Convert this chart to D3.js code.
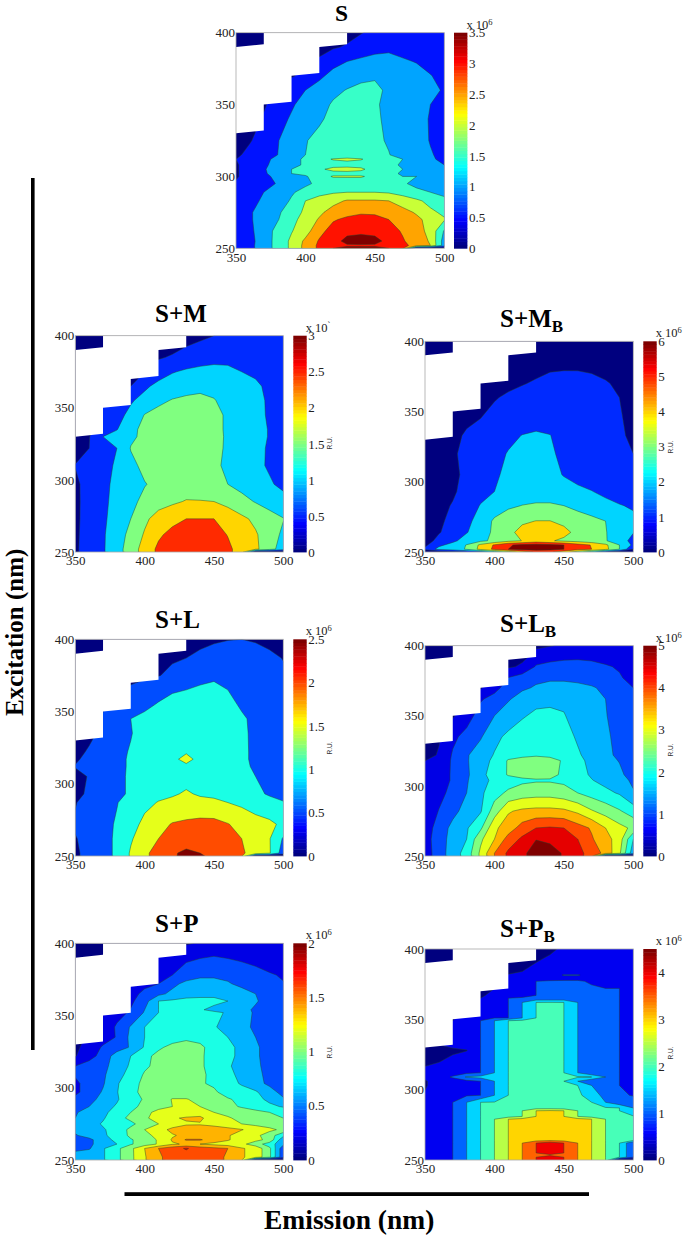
<!DOCTYPE html>
<html>
<head>
<meta charset="utf-8">
<title>Excitation-emission contour maps</title>
<script src="https://cdn.jsdelivr.net/npm/d3@7"></script>
<style>
  html, body { margin: 0; padding: 0; background: #fff; }
  svg { display: block; }
  text { font-family: "Liberation Serif", "Times New Roman", serif; }
</style>
</head>
<body>
<script>
// emission axis of every grid (nm)
var emission = [350, 360, 370, 380, 390, 400, 410, 420, 430, 440, 450, 460, 470, 480, 490, 500];

var emissionTicks = [350, 400, 450, 500];
var excitationTicks = [250, 300, 350, 400];

// no data in this corner of every map
var blankEmission = [350, 370, 370, 390, 390, 410, 410, 430, 430, 370, 370, 350];
var blankExcitation = [330, 332, 350, 352, 370, 372, 390, 392, 400, 400, 392, 390];

// intensities in units of 10^6 R.U., one row per excitation wavelength
var sExcitation = [250, 252, 255, 262, 270, 275, 283, 289, 295, 300, 302, 305, 308, 312, 315, 325, 340, 350, 360, 370, 380, 390, 400];
var sValues = [
  [.6, .87, 1.25, 1.67, 2.1, 2.65, 3.1, 3.5, 3.6, 3.6, 3.6, 3.5, 3.15, 0, 0, 0],
  [.6, .87, 1.25, 1.67, 2.1, 2.65, 3.1, 3.35, 3.45, 3.45, 3.45, 3.3, 3.15, 2.8, 2.5, 1.25],
  [.6, .85, 1.25, 1.67, 2.1, 2.6, 3.05, 3.3, 3.65, 3.7, 3.65, 3.35, 3.05, 2.75, 2.45, 1.25],
  [.65, .9, 1.25, 1.65, 1.97, 2.3, 2.85, 3.2, 3.35, 3.4, 3.35, 3.2, 2.95, 2.7, 2.35, 1.45],
  [.7, .95, 1.2, 1.47, 1.85, 2.2, 2.55, 2.95, 3.1, 3.15, 3.1, 3, 2.8, 2.6, 2.35, 2.05],
  [.7, .95, 1.2, 1.42, 1.75, 2.1, 2.4, 2.7, 2.85, 2.95, 2.95, 2.8, 2.65, 2.45, 2.1, 1.9],
  [.7, .9, 1.05, 1.28, 1.55, 2, 2.2, 2.35, 2.55, 2.55, 2.55, 2.5, 2.3, 2.1, 1.85, 1.6],
  [.65, .85, 1, 1.25, 1.45, 1.65, 1.85, 1.95, 2, 2, 2, 1.95, 1.8, 1.6, 1.5, 1.4],
  [.55, .75, .9, 1.02, 1.2, 1.42, 1.6, 1.65, 1.7, 1.7, 1.7, 1.65, 1.55, 1.4, 1.25, 1.15],
  [.45, .7, .9, 1.1, 1.35, 1.45, 1.75, 2.05, 2.05, 2.05, 1.85, 1.65, 1.5, 1.5, 1.3, 1.1],
  [.45, .7, .95, 1.15, 1.5, 1.6, 1.7, 1.8, 1.8, 1.8, 1.7, 1.6, 1.45, 1.3, 1.2, 1.1],
  [.45, .7, .97, 1.15, 1.5, 1.6, 1.9, 2.15, 2.2, 2.1, 1.75, 1.6, 1.5, 1.3, 1.15, 1.05],
  [.45, .7, .95, 1.1, 1.4, 1.55, 1.7, 1.8, 1.8, 1.8, 1.7, 1.6, 1.45, 1.25, 1.1, 1],
  [.5, .75, .9, 1.1, 1.3, 1.6, 1.85, 2.03, 2.1, 2.03, 1.8, 1.6, 1.5, 1.2, 1.05, .92],
  [.4, .65, .85, 1, 1.25, 1.5, 1.6, 1.7, 1.7, 1.7, 1.65, 1.52, 1.3, 1.15, 1.03, .9],
  [.3, .46, .75, .98, 1.2, 1.48, 1.6, 1.65, 1.7, 1.7, 1.6, 1.45, 1.3, 1.15, .98, .85],
  [.2, .3, .55, .85, 1.05, 1.25, 1.45, 1.6, 1.65, 1.65, 1.58, 1.4, 1.25, 1.1, .98, .85],
  [0, .2, .45, .7, .95, 1.15, 1.35, 1.55, 1.65, 1.65, 1.55, 1.4, 1.25, 1.1, 1, .85],
  [0, .1, .35, .6, .85, 1, 1.2, 1.4, 1.52, 1.6, 1.6, 1.42, 1.3, 1.15, 1.05, .98],
  [0, 0, .2, .45, .45, .65, .9, 1.15, 1.3, 1.4, 1.45, 1.35, 1.25, 1.15, 1.02, .85],
  [0, 0, 0, .2, .35, .5, .6, .85, 1, 1.1, 1.15, 1.15, 1.05, .98, .85, .7],
  [0, 0, 0, 0, .1, .2, .3, .45, .55, .7, .85, .9, .85, .8, .7, .65],
  [0, 0, 0, 0, 0, .05, .1, .2, .35, .48, .6, .7, .7, .7, .65, .6]
];

var smExcitation = [250, 252, 262, 273, 285, 297, 310, 322, 330, 335, 345, 355, 365, 375, 385, 400];
var smValues = [
  [.4, .8, .95, 1.3, 1.75, 2.2, 2.6, 2.75, 2.8, 2.8, 2.8, 2.6, 2.3, 0, 0, 0],
  [.4, .8, .95, 1.3, 1.75, 2.2, 2.6, 2.75, 2.8, 2.8, 2.8, 2.6, 2.3, 2.1, 1.7, 1.25],
  [.4, .75, .95, 1.25, 1.65, 2.05, 2.42, 2.65, 2.75, 2.75, 2.7, 2.48, 2.25, 2.05, 1.75, 1.4],
  [.4, .7, .92, 1.2, 1.5, 1.9, 2.2, 2.35, 2.5, 2.5, 2.5, 2.3, 2.1, 1.9, 1.7, 1.52],
  [.42, .65, .9, 1.15, 1.4, 1.6, 1.8, 1.92, 2.03, 2.02, 2, 1.85, 1.65, 1.47, 1.3, 1.15],
  [.4, .7, .9, 1.1, 1.3, 1.48, 1.6, 1.7, 1.75, 1.75, 1.65, 1.5, 1.35, 1.2, 1.05, .9],
  [.52, .7, .88, 1.05, 1.4, 1.6, 1.68, 1.72, 1.75, 1.75, 1.58, 1.42, 1.25, 1.1, .95, .75],
  [.3, .5, .85, 1, 1.52, 1.6, 1.68, 1.72, 1.75, 1.75, 1.65, 1.42, 1.25, 1.12, .95, .75],
  [.2, .48, 1, 1.2, 1.42, 1.6, 1.68, 1.72, 1.75, 1.75, 1.68, 1.42, 1.25, 1.12, .98, .75],
  [.2, .4, .75, .98, 1.4, 1.6, 1.68, 1.72, 1.75, 1.75, 1.65, 1.42, 1.25, 1.12, .98, .75],
  [.1, .3, .65, .85, 1.12, 1.52, 1.65, 1.7, 1.72, 1.72, 1.65, 1.42, 1.25, 1.12, .95, .75],
  [0, .2, .45, .65, .95, 1.15, 1.4, 1.53, 1.58, 1.6, 1.52, 1.38, 1.25, 1.1, .95, .75],
  [0, .1, .3, .45, .5, .92, 1.12, 1.25, 1.35, 1.4, 1.4, 1.3, 1.2, 1.08, .9, .72],
  [0, 0, .2, .3, .4, .5, .8, .97, 1.07, 1.12, 1.15, 1.12, 1, .92, .8, .68],
  [0, 0, 0, .1, .2, .35, .45, .55, .7, .8, .85, .85, .8, .75, .7, .62],
  [0, 0, 0, 0, 0, 0, .1, .2, .3, .4, .5, .65, .7, .7, .68, .58]
];

var smbExcitation = [250, 252, 255, 258, 264, 272, 283, 293, 305, 320, 333, 345, 360, 370, 380, 400];
var smbValues = [
  [0, .3, .6, 1, 1.6, 2.6, 3.5, 4.5, 5.2, 5.2, 4.5, 3.5, 2.5, 1, .3, 0],
  [1.2, 2.3, 2.5, 3.1, 4.3, 5.2, 6, 6.3, 6.4, 6.3, 6, 5.4, 5, 4.3, 3, 1],
  [.8, 1.8, 2.3, 3.05, 4.2, 5.1, 5.9, 6.2, 6.3, 6.2, 6, 5.4, 4.95, 4.2, 3, 1.8],
  [.7, 1.2, 1.8, 2.4, 2.8, 3.2, 3.7, 4.02, 4.4, 4.1, 3.8, 3.6, 3.3, 3.05, 2.6, 1.6],
  [.6, .95, 1.3, 1.95, 2.5, 3.2, 3.75, 4.3, 4.6, 4.5, 4.3, 3.7, 3.4, 3.05, 2.5, 2.05],
  [.55, .9, 1.15, 1.75, 2.4, 3.15, 3.5, 3.85, 4.02, 4.02, 3.75, 3.45, 3.25, 3, 2.6, 2.2],
  [.5, .8, 1.05, 1.5, 2.05, 2.5, 2.85, 3.02, 3.1, 3.1, 3, 2.75, 2.5, 2.25, 2.05, 1.9],
  [.45, .7, .9, 1.25, 1.7, 2, 2.3, 2.5, 2.6, 2.6, 2.4, 2.2, 2.03, 1.8, 1.6, 1.5],
  [.4, .6, .85, 1.15, 1.55, 1.9, 2.15, 2.3, 2.4, 2.3, 1.95, 1.7, 1.55, 1.45, 1.3, 1.15],
  [.35, .55, .9, 1.2, 1.45, 1.75, 2.05, 2.2, 2.3, 2.1, 1.85, 1.6, 1.45, 1.3, 1.15, 1],
  [.3, .45, .8, 1.1, 1.25, 1.5, 1.8, 2.02, 2.1, 2.02, 1.7, 1.5, 1.35, 1.2, 1.08, .9],
  [.2, .4, .6, .85, 1, 1.2, 1.35, 1.55, 1.7, 1.65, 1.55, 1.4, 1.3, 1.2, 1.05, .85],
  [.1, .25, .4, .6, .8, .95, 1.1, 1.3, 1.4, 1.4, 1.35, 1.3, 1.2, 1.1, 1, .8],
  [0, .1, .3, .45, .6, .75, .85, .95, 1.1, 1.2, 1.2, 1.18, 1.12, 1.05, .9, .7],
  [0, 0, .1, .3, .4, .5, .6, .7, .8, .95, .98, .98, .95, .85, .7, .6],
  [0, 0, 0, .1, .1, .2, .2, .3, .3, .4, .4, .4, .4, .4, .4, .4]
];

var slExcitation = [250, 252, 262, 272, 287, 293, 305, 312, 317, 322, 335, 345, 355, 365, 375, 387, 400];
var slValues = [
  [.45, .6, .8, 1.1, 1.55, 1.9, 2.2, 2.45, 2.6, 2.55, 2.4, 2.25, 2.05, 0, 0, 0],
  [.45, .6, .8, 1.1, 1.55, 1.9, 2.2, 2.45, 2.58, 2.5, 2.4, 2.25, 2.05, 1.85, 1.55, .75],
  [.48, .62, .8, 1.1, 1.45, 1.75, 2, 2.2, 2.3, 2.35, 2.35, 2.2, 2, 1.8, 1.53, .95],
  [.55, .7, .85, 1.05, 1.35, 1.6, 1.85, 2.03, 2.1, 2.15, 2.15, 2.02, 1.85, 1.7, 1.6, 1.4],
  [.48, .65, .85, .98, 1.2, 1.4, 1.52, 1.6, 1.62, 1.62, 1.58, 1.5, 1.4, 1.25, 1.15, 1.02],
  [.42, .55, .75, .92, 1.05, 1.25, 1.4, 1.45, 1.55, 1.45, 1.42, 1.35, 1.2, 1.1, .95, .9],
  [.4, .52, .75, .92, 1.05, 1.2, 1.3, 1.35, 1.35, 1.3, 1.28, 1.22, 1.1, 1, .85, .75],
  [.52, .6, .75, .9, 1.05, 1.2, 1.3, 1.35, 1.4, 1.35, 1.3, 1.22, 1.08, .95, .85, .7],
  [.45, .6, .75, .9, 1.05, 1.2, 1.3, 1.38, 1.65, 1.35, 1.3, 1.2, 1.08, .92, .82, .7],
  [.38, .55, .72, .9, 1.03, 1.2, 1.3, 1.35, 1.45, 1.35, 1.3, 1.2, 1.08, .92, .82, .7],
  [.3, .4, .6, .85, .98, 1.15, 1.28, 1.35, 1.4, 1.35, 1.3, 1.2, 1.07, .92, .82, .7],
  [.15, .3, .55, .8, 1, 1.1, 1.25, 1.3, 1.35, 1.35, 1.3, 1.15, 1.05, .92, .82, .7],
  [0, .2, .45, .6, .7, .9, 1.03, 1.15, 1.25, 1.3, 1.25, 1.1, .95, .88, .8, .68],
  [0, .1, .3, .42, .58, .7, .85, .95, 1, 1.06, 1.07, 1, .9, .82, .75, .65],
  [0, 0, .15, .25, .35, .42, .48, .6, .78, .88, .95, .92, .85, .78, .7, .6],
  [0, 0, 0, .1, .2, .3, .38, .45, .5, .6, .75, .8, .78, .72, .62, .48],
  [0, 0, 0, 0, .1, .1, .2, .3, .3, .38, .42, .48, .5, .45, .35, .25]
];

var slbExcitation = [250, 252, 262, 270, 282, 295, 304, 308, 318, 322, 335, 350, 362, 370, 377, 385, 400];
var slbValues = [
  [.75, 1.25, 1.75, 2.2, 3.1, 4, 4.6, 4.85, 5.3, 5.2, 4.95, 4.65, 4.3, 0, 0, 0],
  [.75, 1.25, 1.75, 2.2, 3.1, 4, 4.6, 4.85, 5.3, 5.2, 4.95, 4.65, 4.3, 3.85, 3.1, 1.7],
  [.8, 1.25, 1.7, 2, 2.9, 3.5, 4.2, 4.6, 4.98, 4.9, 4.8, 4.5, 4.05, 3.7, 3.25, 2],
  [.75, 1.2, 1.65, 1.95, 2.4, 3.4, 3.75, 4.2, 4.5, 4.55, 4.5, 4.2, 3.95, 3.5, 3.15, 2.9],
  [.65, 1.02, 1.35, 1.7, 1.95, 2.75, 3.45, 3.6, 3.65, 3.65, 3.6, 3.4, 3.05, 2.8, 2.55, 2.25],
  [.6, .85, 1.15, 1.5, 1.9, 2.3, 2.6, 2.75, 2.8, 2.8, 2.7, 2.5, 2.3, 2.12, 1.95, 1.55],
  [.55, .8, 1.05, 1.45, 1.85, 2.1, 2.25, 2.4, 2.45, 2.45, 2.4, 2.2, 2.02, 1.85, 1.7, 1.4],
  [.55, .8, 1.05, 1.4, 1.9, 2.15, 2.55, 2.65, 2.7, 2.65, 2.4, 2.15, 1.95, 1.75, 1.6, 1.3],
  [.5, .75, 1.05, 1.45, 1.8, 2.1, 2.55, 2.65, 2.7, 2.65, 2.45, 2.15, 1.85, 1.65, 1.48, 1.2],
  [.3, .55, 1.05, 1.45, 1.75, 2.03, 2.3, 2.4, 2.45, 2.4, 2.2, 2.05, 1.85, 1.62, 1.4, 1.15],
  [.25, .45, .9, 1.15, 1.45, 1.88, 2.1, 2.25, 2.3, 2.3, 2.15, 1.95, 1.75, 1.57, 1.38, 1.15],
  [.1, .3, .45, .8, 1.2, 1.5, 1.75, 1.95, 2.1, 2.1, 2.03, 1.8, 1.65, 1.52, 1.35, 1.1],
  [0, .2, .4, .7, .95, 1.15, 1.45, 1.7, 1.85, 1.9, 1.9, 1.8, 1.65, 1.5, 1.3, 1.1],
  [0, 0, .3, .4, .45, .85, 1.2, 1.42, 1.55, 1.6, 1.6, 1.6, 1.55, 1.4, 1.2, 1],
  [0, 0, .2, .35, .55, .8, 1.02, 1.25, 1.4, 1.45, 1.45, 1.4, 1.3, 1.2, 1.05, .85],
  [0, 0, .1, .2, .3, .4, .45, .55, 1.05, 1.15, 1.2, 1.2, 1.15, 1.05, .95, .78],
  [0, 0, 0, 0, .1, .1, .2, .3, .4, .48, .55, .6, .6, .6, .6, .55]
];

var spExcitation = [250, 252, 258, 261, 264, 267, 271, 275, 279, 283, 287, 292, 297, 303, 309, 315, 322, 328, 335, 342, 352, 354, 360, 365, 372, 378, 391, 400];
var spValues = [
  [.7, .75, .78, .95, 1.15, 1.38, 1.58, 1.65, 1.7, 1.7, 1.65, 1.58, 1.42, 0, 0, 0],
  [.7, .75, .78, .95, 1.15, 1.38, 1.58, 1.65, 1.7, 1.7, 1.65, 1.58, 1.42, 1.33, 1.05, .45],
  [.55, .58, .78, .95, 1.15, 1.4, 1.6, 1.72, 1.82, 1.7, 1.65, 1.6, 1.42, 1.33, 1.05, .45],
  [.5, .55, .72, .8, .98, 1.1, 1.22, 1.38, 1.42, 1.4, 1.35, 1.3, 1.25, 1.1, .9, .65],
  [.5, .55, .72, .85, .98, 1.1, 1.22, 1.42, 1.62, 1.62, 1.5, 1.42, 1.3, 1.25, 1.15, .65],
  [.58, .68, .78, .85, 1.05, 1.15, 1.25, 1.38, 1.45, 1.45, 1.45, 1.42, 1.3, 1.25, 1.1, .85],
  [.65, .72, .78, .88, 1.05, 1.2, 1.32, 1.45, 1.48, 1.5, 1.48, 1.45, 1.41, 1.32, 1.25, 1.15],
  [.66, .72, .82, .9, .95, 1.1, 1.2, 1.3, 1.38, 1.38, 1.35, 1.3, 1.2, 1.15, 1.1, 1.05],
  [.6, .7, .78, .92, 1.05, 1.18, 1.25, 1.38, 1.42, 1.45, 1.25, 1.22, 1.15, 1.1, 1.05, 1],
  [.58, .68, .77, .85, 1, 1.15, 1.25, 1.3, 1.3, 1.28, 1.2, 1.15, 1.1, 1.05, 1, .98],
  [.5, .6, .73, .82, .95, 1.05, 1.15, 1.2, 1.25, 1.2, 1.15, 1.05, .98, .92, .85, .78],
  [.45, .55, .65, .78, .92, 1.02, 1.1, 1.21, 1.21, 1.15, 1.1, 1.02, .95, .87, .75, .62],
  [.36, .48, .62, .79, .95, 1.05, 1.08, 1.1, 1.1, 1.06, 1.03, .92, .87, .83, .66, .55],
  [.36, .48, .58, .78, .92, 1.05, 1.1, 1.1, 1.1, 1.02, .97, .87, .78, .65, .57, .52],
  [.42, .5, .57, .72, .88, 1.02, 1.08, 1.1, 1.1, 1.03, .96, .85, .75, .65, .55, .5],
  [.4, .48, .55, .68, .83, .97, 1.05, 1.08, 1.1, 1.02, .95, .82, .74, .63, .55, .5],
  [.19, .33, .47, .7, .8, .95, 1.05, 1.08, 1.1, 1.02, .95, .85, .75, .62, .55, .5],
  [.15, .3, .42, .5, .62, .82, .97, 1.05, 1.1, 1.05, .9, .85, .75, .62, .55, .48],
  [.1, .25, .33, .41, .65, .8, .88, .92, .95, .92, .85, .8, .7, .6, .52, .47],
  [.05, .2, .3, .42, .62, .8, .86, .9, .9, .85, .82, .72, .65, .57, .5, .45],
  [0, .15, .3, .35, .42, .62, .8, .85, .87, .85, .84, .78, .66, .58, .5, .44],
  [0, .12, .28, .33, .41, .6, .8, .85, .87, .82, .75, .7, .66, .57, .5, .44],
  [0, .1, .25, .3, .36, .52, .8, .83, .85, .85, .85, .8, .72, .62, .52, .44],
  [0, .05, .2, .27, .33, .45, .55, .65, .73, .75, .75, .72, .68, .6, .5, .42],
  [0, 0, .15, .25, .3, .35, .4, .55, .65, .7, .7, .62, .55, .5, .45, .41],
  [0, 0, .1, .2, .25, .3, .35, .4, .5, .55, .55, .55, .52, .47, .42, .38],
  [0, 0, 0, .05, .1, .15, .2, .3, .35, .38, .4, .38, .35, .32, .28, .25],
  [0, 0, 0, 0, 0, 0, .1, .15, .18, .22, .25, .25, .25, .25, .25, .22]
];

var spbExcitation = [250, 252, 253.5, 255, 262, 264, 279, 281, 285, 287, 291, 296, 303, 306, 309, 312, 320, 328, 331, 349, 351, 362, 365, 367, 372, 377, 379, 381.5, 384, 400];
var spbValues = [
  [.7, .8, 1, 1.5, 2, 2.5, 3, 3.5, 4, 4.3, 4, 3.5, 3, 2.5, 0, 0],
  [.7, .8, 1, 1.5, 2, 2.5, 3, 3.5, 4, 4.3, 4, 3.5, 3, 2.5, 2, 1],
  [.7, .8, 1, 1.5, 2, 2.5, 3, 3.5, 3.75, 3.9, 3.75, 3.5, 3, 2.5, 2, 1],
  [.7, .8, 1, 1.5, 2, 2.5, 3, 3.5, 4, 4.3, 4, 3.5, 3, 2.5, 2, 1],
  [.7, .8, 1, 1.5, 2, 2.5, 3, 3.5, 4, 4.3, 4, 3.5, 3, 2.5, 2, 1],
  [.7, .8, 1, 1.5, 2, 2.5, 3, 3.25, 3.35, 3.4, 3.35, 3.2, 3, 2.5, 2.1, 2.05],
  [.7, .8, 1, 1.5, 2, 2.5, 3, 3.15, 3.25, 3.25, 3.25, 3.15, 3, 2.5, 2.1, 2.05],
  [.7, .8, 1, 1.5, 2, 2.2, 2.3, 2.5, 3, 3.05, 3, 2.5, 2.3, 2.2, 2.1, 2.05],
  [.7, .8, 1, 1.5, 2, 2.2, 2.3, 2.5, 3, 3.05, 3, 2.5, 2.2, 2.15, 2, 1.5],
  [.7, .8, 1, 1.5, 2, 2.1, 2.1, 2.25, 2.3, 2.3, 2.25, 2.15, 2.1, 2.05, 2, 1.5],
  [.7, .8, 1, 1.5, 2, 2.02, 2.1, 2.15, 2.2, 2.2, 2.15, 2.1, 2, 1.5, 1.15, 1.15],
  [.55, .75, .8, .95, 1, 1.5, 2, 2.05, 2.1, 2.1, 2.1, 2.15, 1.65, 1.4, 1.05, .98],
  [.45, .75, .8, .9, 1, 1.5, 2, 2.05, 2.05, 2.05, 2.05, 2, 1.5, 1.02, 1, .9],
  [.45, .75, .8, .85, 1, 1.5, 2, 2.05, 2.05, 2.05, 2, 1.5, 1.05, 1.02, 1, .9],
  [.6, .8, 1.05, 1.55, 1.65, 1.9, 2, 2.05, 2.1, 2.05, 2.05, 2.05, 2, 1.5, 1, .9],
  [.7, .75, .8, .9, 1, 1.5, 2, 2.05, 2.1, 2.05, 2, 1.5, 1.05, 1.02, 1, .9],
  [.35, .48, .65, .8, 1, 1.5, 2, 2.05, 2.1, 2.05, 2, 1.5, 1.05, 1.02, 1, .9],
  [.25, .3, .4, .48, 1, 1.5, 2, 2.05, 2.1, 2.05, 2, 1.5, 1.05, 1.02, 1, .9],
  [.25, .45, .6, .75, 1, 1.5, 2, 2.05, 2.1, 2.05, 2, 1.5, 1.05, 1.02, 1, .9],
  [.2, .5, .5, .7, 1, 1.5, 2, 2.1, 2.1, 2.1, 2, 1.5, 1.05, 1.02, 1, .9],
  [.15, .3, .45, .7, .9, .98, 1, 1.5, 2, 2.05, 2, 1.5, 1.05, 1.02, 1, .9],
  [.1, .3, .5, .6, .6, .8, 1, 1.5, 2, 2.02, 2, 1.5, 1.05, 1.02, 1, .9],
  [.05, .25, .45, .55, .5, .7, 1, 1.02, 1.1, 1.1, 1.1, 1.1, 1.05, 1.02, 1, .9],
  [0, .2, .4, .52, .45, .6, .85, .95, 1, 1.1, 1.1, 1.1, 1.05, 1.02, 1, .9],
  [0, .1, .25, .45, .4, .5, .75, .85, 1, 1.1, 1.1, 1.1, 1.05, 1, 1, .85],
  [0, 0, .1, .25, .45, .58, .6, .7, 1, 1.05, 1.05, 1.05, .95, .85, .8, .75],
  [0, 0, .1, .2, .4, .55, .6, .7, .8, .85, .9, .9, .85, .8, .75, .72],
  [0, 0, .05, .2, .35, .45, .55, .65, .75, .85, 1.02, 1.02, .9, .8, .75, .7],
  [0, 0, .05, .1, .15, .2, .35, .5, .6, .65, .8, .8, .75, .75, .7, .7],
  [0, 0, 0, 0, 0, 0, .1, .25, .35, .45, .55, .6, .65, .65, .65, .6]
];

var jetStops = [0, .125, .375, .625, .875, 1];
var jetColors = ['#00007f', '#0000ff', '#00ffff', '#ffff00', '#ff0000', '#7f0000'];
var jet = d3.scaleLinear().domain(jetStops).range(jetColors);

var panels = [
  { title: 'S', sub: '', x: 236, y: 32.7, w: 208.3, h: 215.6, tx: 335, ty: 21, fs: 23.5, cbx: 454, rowsEx: sExcitation, values: sValues, step: .5, max: 3.5, cbTicks: [0, .5, 1, 1.5, 2, 2.5, 3, 3.5], exp: '6', ru: null },
  { title: 'S+M', sub: '', x: 75.3, y: 335.7, w: 208, h: 216.3, tx: 155, ty: 321.7, fs: 25, cbx: 293.3, rowsEx: smExcitation, values: smValues, step: .5, max: 3, cbTicks: [0, .5, 1, 1.5, 2, 2.5, 3], exp: '`', ru: [332, 443] },
  { title: 'S+M', sub: 'B', x: 425, y: 341.3, w: 208.3, h: 210.7, tx: 500, ty: 326.7, fs: 25, cbx: 643.3, rowsEx: smbExcitation, values: smbValues, step: 1, max: 6, cbTicks: [0, 1, 2, 3, 4, 5, 6], exp: '6', ru: [673, 447] },
  { title: 'S+L', sub: '', x: 75.3, y: 639.3, w: 208, h: 216.7, tx: 155, ty: 627.7, fs: 25, cbx: 293.3, rowsEx: slExcitation, values: slValues, step: .5, max: 2.5, cbTicks: [0, .5, 1, 1.5, 2, 2.5], exp: '6', ru: [332, 748] },
  { title: 'S+L', sub: 'B', x: 425, y: 645.7, w: 208.3, h: 210.3, tx: 500, ty: 632, fs: 25, cbx: 643.3, rowsEx: slbExcitation, values: slbValues, step: .5, max: 5, cbTicks: [0, 1, 2, 3, 4, 5], exp: '6', ru: [673, 750] },
  { title: 'S+P', sub: '', x: 75.3, y: 943.3, w: 208, h: 216.7, tx: 155, ty: 931.7, fs: 25, cbx: 293.3, rowsEx: spExcitation, values: spValues, step: .2, max: 2, cbTicks: [0, .5, 1, 1.5, 2], exp: '6', ru: [332, 1052] },
  { title: 'S+P', sub: 'B', x: 425, y: 949, w: 208.3, h: 211, tx: 500, ty: 936.7, fs: 25, cbx: 643.3, rowsEx: spbExcitation, values: spbValues, step: .5, max: 4.5, cbTicks: [0, 1, 2, 3, 4], exp: '6', ru: [673, 1053] }
];

var svg = d3.select('body')
  .append('svg')
  .attr('width', 685)
  .attr('height', 1237);

svg.append('rect')
  .attr('width', 685)
  .attr('height', 1237)
  .attr('fill', 'white');

panels.forEach(function(p, n) { drawPanel(p, n); });

// the two bars and the shared axis names
svg.append('rect').attr('x', 31).attr('y', 178).attr('width', 3.6).attr('height', 872).attr('fill', '#000');
svg.append('rect').attr('x', 124.5).attr('y', 1192.2).attr('width', 464.5).attr('height', 3.8).attr('fill', '#000');

svg.append('text')
  .attr('transform', 'translate(22.5,716) rotate(-90)')
  .style('font-size', '25px')
  .style('font-weight', 'bold')
  .text('Excitation (nm)');

svg.append('text')
  .attr('x', 264)
  .attr('y', 1229)
  .style('font-size', '27.5px')
  .style('font-weight', 'bold')
  .text('Emission (nm)');

function drawPanel(p, n) {
  var x = d3.scaleLinear().domain([350, 500]).range([p.x, p.x + p.w]);
  var y = d3.scaleLinear().domain([250, 400]).range([p.y + p.h, p.y]);

  // grid index -> wavelength; the excitation rows are not evenly spaced
  var colToEm = d3.scaleLinear().domain(d3.range(emission.length)).range(emission);
  var rowToEx = d3.scaleLinear().domain(d3.range(p.rowsEx.length)).range(p.rowsEx);

  var path = d3.geoPath(d3.geoTransform({
    point: function(cx, cy) {
      this.stream.point(x(colToEm(cx - .5)), y(rowToEx(cy - .5)));
    }
  }));

  var levels = d3.range(1, Math.round(p.max / p.step) + 1).map(function(k) {
    return +(k * p.step).toFixed(3);
  });

  var contours = d3.contours()
    .size([emission.length, p.rowsEx.length])
    .smooth(true)
    .thresholds(levels)(p.values.flat());

  var clipId = 'plot' + n;
  svg.append('clipPath').attr('id', clipId)
    .append('rect')
    .attr('x', p.x).attr('y', p.y).attr('width', p.w).attr('height', p.h);

  var g = svg.append('g').attr('clip-path', 'url(#' + clipId + ')');

  g.append('rect')
    .attr('x', p.x).attr('y', p.y).attr('width', p.w).attr('height', p.h)
    .attr('fill', jet(0));

  g.selectAll('path')
    .data(contours)
    .enter()
    .append('path')
    .attr('d', path)
    .attr('fill', function(d) { return jet(d.value / p.max); })
    .attr('stroke', '#24402a')
    .attr('stroke-opacity', .75)
    .attr('stroke-width', .6);

  var blank = d3.line()
    .x(function(d) { return x(d[0]); })
    .y(function(d) { return y(d[1]); })
    .curve(d3.curveLinearClosed);

  g.append('path')
    .attr('d', blank(d3.zip(blankEmission, blankExcitation)))
    .attr('fill', 'white');

  // box
  svg.append('rect')
    .attr('x', p.x).attr('y', p.y).attr('width', p.w).attr('height', p.h)
    .attr('fill', 'none')
    .attr('stroke', '#a8a8a8')
    .attr('stroke-width', .8);

  var xAxis = svg.append('g')
    .attr('transform', 'translate(0,' + (p.y + p.h) + ')')
    .call(d3.axisBottom(x).tickValues(emissionTicks).tickSize(0).tickPadding(4));

  var yAxis = svg.append('g')
    .attr('transform', 'translate(' + p.x + ',0)')
    .call(d3.axisLeft(y).tickValues(excitationTicks).tickSize(0).tickPadding(1));

  [xAxis, yAxis].forEach(function(a) {
    a.select('.domain').remove();
    a.selectAll('text')
      .style('font-family', '"Liberation Serif", serif')
      .style('font-size', '13px')
      .attr('fill', '#222');
  });

  drawColorbar(p);

  var title = svg.append('text')
    .attr('x', p.tx)
    .attr('y', p.ty)
    .style('font-size', p.fs + 'px')
    .style('font-weight', 'bold')
    .text(p.title);

  if (p.sub) {
    title.append('tspan')
      .attr('dy', 5)
      .style('font-size', '17px')
      .text(p.sub);
  }
}

function drawColorbar(p) {
  var cbw = 13.4;
  var c = d3.scaleLinear().domain([0, p.max]).range([p.y + p.h, p.y]);
  var steps = d3.range(0, 64);

  svg.append('g').selectAll('rect')
    .data(steps)
    .enter()
    .append('rect')
    .attr('x', p.cbx)
    .attr('width', cbw)
    .attr('y', function(d) { return c((d + 1) / 64 * p.max); })
    .attr('height', p.h / 64 + .4)
    .attr('fill', function(d) { return jet(d / 63); });

  var axis = svg.append('g')
    .attr('transform', 'translate(' + (p.cbx + cbw) + ',0)')
    .call(d3.axisRight(c).tickValues(p.cbTicks).tickFormat(d3.format('')).tickSize(0).tickPadding(1.5));

  axis.select('.domain').remove();
  axis.selectAll('text')
    .style('font-family', '"Liberation Serif", serif')
    .style('font-size', '13px')
    .attr('fill', '#222');

  var scaleLabel = svg.append('text')
    .attr('x', p.cbx + cbw - 1)
    .attr('y', p.y - 4)
    .style('font-size', '12.5px')
    .attr('fill', '#222')
    .text('x 10');

  scaleLabel.append('tspan')
    .attr('dy', -4)
    .style('font-size', '8.5px')
    .text(p.exp);

  if (p.ru) {
    svg.append('text')
      .attr('transform', 'translate(' + p.ru[0] + ',' + p.ru[1] + ') rotate(-90)')
      .attr('text-anchor', 'middle')
      .style('font-family', '"Liberation Sans", sans-serif')
      .style('font-size', '6.5px')
      .attr('fill', '#333')
      .text('R.U.');
  }
}
</script>
</body>
</html>
